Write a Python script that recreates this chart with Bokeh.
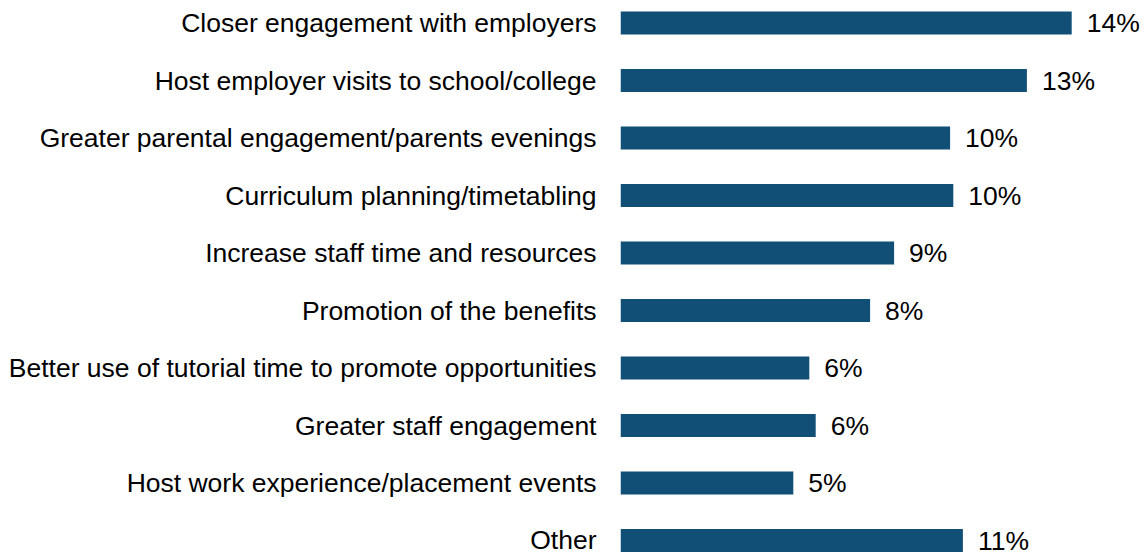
from bokeh.plotting import figure
from bokeh.models import ColumnDataSource, Range1d, FixedTicker
from bokeh.core.properties import value
from bokeh.embed import file_html
from bokeh.resources import INLINE

categories = [
    "Closer engagement with employers",
    "Host employer visits to school/college",
    "Greater parental engagement/parents evenings",
    "Curriculum planning/timetabling",
    "Increase staff time and resources",
    "Promotion of the benefits",
    "Better use of tutorial time to promote opportunities",
    "Greater staff engagement",
    "Host work experience/placement events",
    "Other",
]
values = [14.1, 12.7, 10.3, 10.4, 8.55, 7.8, 5.9, 6.1, 5.4, 10.7]
value_labels = ["14%", "13%", "10%", "10%", "9%", "8%", "6%", "6%", "5%", "11%"]

FONT = "Liberation Sans"
BAR = "#114F77"
FS = "26.5px"

pos = list(range(len(categories)))
src = ColumnDataSource(dict(y=pos, v=values, lab=value_labels))

W, H = 1146, 554
left = 620
px_per_unit_y = 57.5
first_center = 22.5
y_top = -first_center / px_per_unit_y
y_bot = (H - first_center) / px_per_unit_y
px_per_unit_x = 32.0
x_end = (W - left) / px_per_unit_x

p = figure(width=W, height=H, output_backend="svg", toolbar_location=None,
           x_range=Range1d(0, x_end), y_range=Range1d(y_bot, y_top),
           min_border_left=left, min_border_right=0, min_border_top=0, min_border_bottom=0)
p.xaxis.visible = False
p.grid.visible = False
p.outline_line_color = None
p.background_fill_color = "white"
p.border_fill_color = "white"

p.hbar(y="y", right="v", left=0, height=0.4, source=src, fill_color=BAR, line_color=None)
p.text(x="v", y="y", text="lab", source=src, x_offset=15, text_baseline="middle",
       text_align="left", text_font=value(FONT), text_font_size=FS, text_color="#000000")

ax = p.yaxis[0]
ax.ticker = FixedTicker(ticks=pos)
ax.major_label_overrides = {i: c for i, c in enumerate(categories)}
ax.major_label_text_font = FONT
ax.major_label_text_font_size = FS
ax.major_label_text_color = "#000000"
ax.major_label_standoff = 24
ax.axis_line_color = None
ax.major_tick_line_color = None
ax.minor_tick_line_color = None
ax.major_tick_out = 0
ax.major_tick_in = 0

open("out.html", "w").write(file_html(p, INLINE))
